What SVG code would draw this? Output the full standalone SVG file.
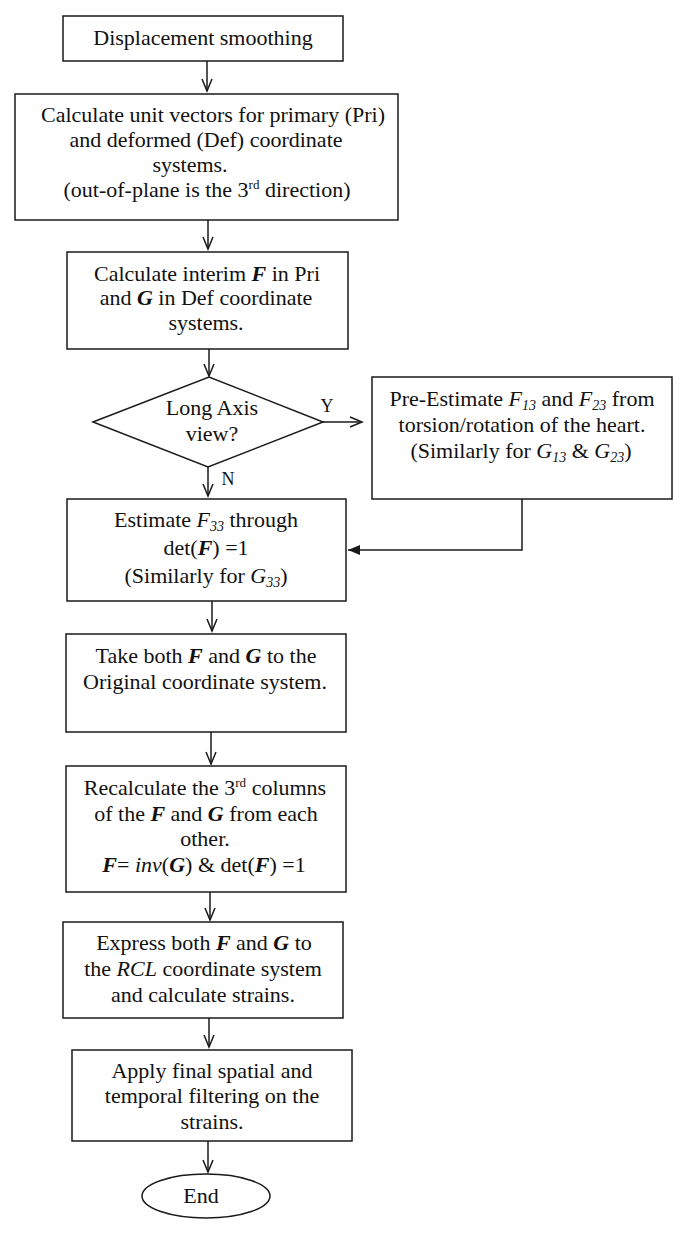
<svg xmlns="http://www.w3.org/2000/svg" width="685" height="1240" viewBox="0 0 685 1240">
<style>
.box{fill:#fff;stroke:#1a1a1a;stroke-width:1.5}
.t{font-family:"Liberation Serif","Times New Roman",serif;font-size:22px;fill:#111;text-anchor:middle}
.bi{font-weight:bold;font-style:italic}
.i{font-style:italic}
.c{stroke:#1a1a1a;stroke-width:1.5;fill:none}
</style>
<defs>
<marker id="arr" markerUnits="userSpaceOnUse" markerWidth="16" markerHeight="14" refX="12" refY="6" orient="auto" overflow="visible">
<path d="M0,1 L12,6 L0,11" fill="none" stroke="#1a1a1a" stroke-width="1.5"/>
</marker>
<marker id="arrf" markerUnits="userSpaceOnUse" markerWidth="16" markerHeight="14" refX="12" refY="6" orient="auto" overflow="visible">
<path d="M0,1 L12,6 L0,11 Z" fill="#1a1a1a"/>
</marker>
</defs>
<rect width="685" height="1240" fill="#fff"/>
<g id="connectors">
<line class="c" x1="207" y1="61" x2="207" y2="91" marker-end="url(#arr)"/>
<line class="c" x1="208" y1="220" x2="208" y2="249" marker-end="url(#arr)"/>
<line class="c" x1="209" y1="349" x2="209" y2="376" marker-end="url(#arr)"/>
<line class="c" x1="323" y1="422" x2="362" y2="422" marker-end="url(#arr)"/>
<line class="c" x1="208" y1="467" x2="208" y2="496" marker-end="url(#arr)"/>
<polyline class="c" points="522,499 522,550 348,550" marker-end="url(#arrf)"/>
<line class="c" x1="212" y1="601" x2="212" y2="631" marker-end="url(#arr)"/>
<line class="c" x1="211" y1="732" x2="211" y2="764" marker-end="url(#arr)"/>
<line class="c" x1="210" y1="892" x2="210" y2="920" marker-end="url(#arr)"/>
<line class="c" x1="209" y1="1018" x2="209" y2="1047" marker-end="url(#arr)"/>
<line class="c" x1="208" y1="1141" x2="208" y2="1172" marker-end="url(#arr)"/>
<text class="t" x="327" y="412" style="font-size:18px">Y</text>
<text class="t" x="228" y="485" style="font-size:18px">N</text>
</g>
<g id="n1">
<rect class="box" x="63" y="16" width="280" height="45"/>
<text class="t" x="203" y="45">Displacement smoothing</text>
</g>
<g id="n2">
<rect class="box" x="15" y="94" width="383" height="126"/>
<text class="t" x="213" y="122">Calculate unit vectors for primary (Pri)</text>
<text class="t" x="206" y="147">and deformed (Def) coordinate</text>
<text class="t" x="190" y="172">systems.</text>
<text class="t" x="207" y="197">(out-of-plane is the 3<tspan font-size="13" dy="-8">rd</tspan><tspan dy="8"> direction)</tspan></text>
</g>
<g id="n3">
<rect class="box" x="67" y="252" width="281" height="97"/>
<text class="t" x="207" y="281">Calculate interim <tspan class="bi">F</tspan> in Pri</text>
<text class="t" x="206" y="305">and <tspan class="bi">G</tspan> in Def coordinate</text>
<text class="t" x="206" y="330">systems.</text>
</g>
<g id="n4">
<polygon class="box" points="93,422 209,377 323,422 208,467"/>
<text class="t" x="212" y="415">Long Axis</text>
<text class="t" x="212" y="441">view?</text>
</g>
<g id="n5">
<rect class="box" x="372" y="377" width="300" height="122"/>
<text class="t" x="522" y="406">Pre-Estimate <tspan class="i">F</tspan><tspan class="i" font-size="14" dy="4">13</tspan><tspan dy="-4"> and </tspan><tspan class="i">F</tspan><tspan class="i" font-size="14" dy="4">23</tspan><tspan dy="-4"> from</tspan></text>
<text class="t" x="522" y="432">torsion/rotation of the heart.</text>
<text class="t" x="521" y="458">(Similarly for <tspan class="i">G</tspan><tspan class="i" font-size="14" dy="4">13</tspan><tspan dy="-4"> &amp; </tspan><tspan class="i">G</tspan><tspan class="i" font-size="14" dy="4">23</tspan><tspan dy="-4">)</tspan></text>
</g>
<g id="n6">
<rect class="box" x="67" y="499" width="279" height="102"/>
<text class="t" x="206" y="527">Estimate <tspan class="i">F</tspan><tspan class="i" font-size="14" dy="4">33</tspan><tspan dy="-4"> through</tspan></text>
<text class="t" x="206" y="555">det(<tspan class="bi">F</tspan>) =1</text>
<text class="t" x="206" y="583">(Similarly for <tspan class="i">G</tspan><tspan class="i" font-size="14" dy="4">33</tspan><tspan dy="-4">)</tspan></text>
</g>
<g id="n7">
<rect class="box" x="66" y="634" width="280" height="98"/>
<text class="t" x="206" y="663">Take both <tspan class="bi">F</tspan> and <tspan class="bi">G</tspan> to the</text>
<text class="t" x="205" y="689">Original coordinate system.</text>
</g>
<g id="n8">
<rect class="box" x="66" y="766" width="280" height="126"/>
<text class="t" x="205" y="795">Recalculate the 3<tspan font-size="13" dy="-8">rd</tspan><tspan dy="8"> columns</tspan></text>
<text class="t" x="206" y="821">of the <tspan class="bi">F</tspan> and <tspan class="bi">G</tspan> from each</text>
<text class="t" x="205" y="846">other.</text>
<text class="t" x="204" y="872"><tspan class="bi">F</tspan>= <tspan class="i">inv</tspan>(<tspan class="bi">G</tspan>) &amp; det(<tspan class="bi">F</tspan>) =1</text>
</g>
<g id="n9">
<rect class="box" x="63" y="922" width="280" height="96"/>
<text class="t" x="204" y="950">Express both <tspan class="bi">F</tspan> and <tspan class="bi">G</tspan> to</text>
<text class="t" x="203" y="976">the <tspan class="i">RCL</tspan> coordinate system</text>
<text class="t" x="203" y="1002">and calculate strains.</text>
</g>
<g id="n10">
<rect class="box" x="72" y="1050" width="280" height="91"/>
<text class="t" x="212" y="1078">Apply final spatial and</text>
<text class="t" x="212" y="1103">temporal filtering on the</text>
<text class="t" x="212" y="1129">strains.</text>
</g>
<g id="n11">
<ellipse class="box" cx="206" cy="1196" rx="64" ry="22"/>
<text class="t" x="201" y="1203">End</text>
</g>
</svg>
